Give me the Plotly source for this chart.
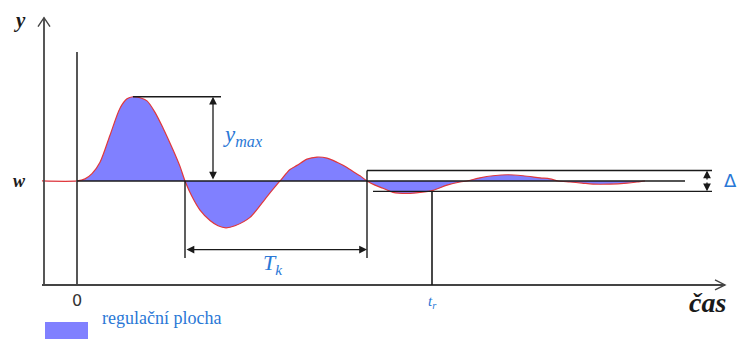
import plotly.graph_objects as go

# Step response of a control loop: time and output (normalised so that w = 1)
t = [-3.5, 0.0, 0.8, 1.5, 2.3, 3.3, 4.3, 5.0, 5.6, 6.3, 7.0, 7.8, 8.6, 9.6, 10.3, 10.8,
     11.5, 12.3, 13.3, 14.1, 14.9, 15.8, 17.3, 19.0, 20.3, 21.3, 22.0, 23.0, 24.0, 25.0,
     26.0, 27.0, 27.6, 28.3, 29.0, 29.8, 30.6, 31.6, 33.1, 34.3, 35.6, 37.0, 38.3, 39.0,
     40.3, 41.6, 43.1, 44.6, 46.3, 47.3, 48.1, 49.3, 50.5, 51.6, 53.3, 55.0, 56.0, 56.8]
y = [1.0, 1.0, 1.02, 1.07, 1.18, 1.44, 1.70, 1.79, 1.81, 1.80, 1.77, 1.66, 1.51, 1.30, 1.14, 1.0,
     0.85, 0.72, 0.62, 0.57, 0.55, 0.57, 0.65, 0.85, 1.0, 1.11, 1.15, 1.21, 1.23, 1.22,
     1.18, 1.13, 1.09, 1.05, 1.0, 0.96, 0.93, 0.89, 0.88, 0.89, 0.91, 0.96, 0.99, 1.0,
     1.03, 1.05, 1.06, 1.05, 1.03, 1.02, 1.0, 0.99, 0.98, 0.97, 0.97, 0.98, 0.99, 1.0]

w = 1.0                       # set-point
delta = 0.10                  # tolerance band
t_k_start, t_k_end = 10.8, 29.0   # one period T_k
t_r = 35.5                    # settling time
t_end = 64.8                  # end of time axis
y_top = 2.57                  # top of y axis
legend_label = "regulační plocha"

y_max = max(y)
t_peak = t[y.index(y_max)]

BLUE = "#2a78d6"
FILL = "#8080ff"
RED = "#e0383c"
BLACK = "#1a1a1a"
AX = "#444444"
SERIF = "Times New Roman, Liberation Serif, DejaVu Serif, serif"

fig = go.Figure()
fig.add_trace(go.Scatter(x=[t[0], t[-1]], y=[w, w], mode="lines",
                         line=dict(width=0), hoverinfo="skip", showlegend=False))
fig.add_trace(go.Scatter(x=t, y=y, mode="lines", line=dict(color=RED, width=1.2, shape="spline", smoothing=0.8),
                         fill="tonexty", fillcolor=FILL, name=legend_label, showlegend=False))

shapes = []
def line(x0, y0, x1, y1, color=BLACK, width=1.4):
    shapes.append(dict(type="line", x0=x0, y0=y0, x1=x1, y1=y1, xref="x", yref="y",
                       line=dict(color=color, width=width)))

# axes
line(-3.3, 0, -3.3, y_top, AX, 1.8)
line(-3.5, 0, t_end, 0, AX, 1.8)
shapes.append(dict(type="path", xref="x", yref="y", xsizemode="pixel", ysizemode="pixel",
                   xanchor=-3.3, yanchor=y_top, path="M -6,-9 L 0,0 L 6,-9",
                   line=dict(color=AX, width=1.4)))
shapes.append(dict(type="path", xref="x", yref="y", xsizemode="pixel", ysizemode="pixel",
                   xanchor=t_end, yanchor=0, path="M -10,5 L 0,0 L -10,-5",
                   line=dict(color=AX, width=1.4)))
# t = 0 line
line(0, 0, 0, 2.24, AX, 1.8)
# set-point line
line(0, w, 60.8, w)
# y_max
line(t_peak, y_max, 14.4, y_max)
# T_k verticals
line(t_k_start, w, t_k_start, 0.26)
line(t_k_end, w + delta, t_k_end, 0.26)
# tolerance band
line(t_k_end, w + delta, 63.5, w + delta)
line(29.6, w - delta, 63.5, w - delta)
# t_r
line(t_r, w - delta, t_r, 0, BLACK, 1.6)

anns = []
def arrow(x, y0, ax, ay, both=True):
    anns.append(dict(x=x, y=y0, ax=ax, ay=ay, xref="x", yref="y", axref="x", ayref="y",
                     text="", showarrow=True, arrowhead=2, startarrowhead=2, arrowsize=1.2,
                     arrowwidth=1.3, arrowcolor=BLACK, arrowside="end+start" if both else "end"))

arrow(13.6, y_max, 13.6, w)
arrow(t_k_end, 0.34, t_k_start, 0.34)
arrow(63.0, w + delta, 63.0, w, both=False)
arrow(63.0, w - delta, 63.0, w, both=False)

def text(x, yv, s, size, color, family=SERIF, xanchor="center"):
    anns.append(dict(x=x, y=yv, xref="x", yref="y", text=s, showarrow=False,
                     font=dict(size=size, color=color, family=family), xanchor=xanchor))

text(16.6, 1.43, "<i>y<sub>max</sub></i>", 23, BLUE)
text(19.6, 0.20, "<i>T<sub>k</sub></i>", 22, BLUE)
text(65.3, w, "Δ", 18, BLUE, "DejaVu Sans")
text(t_r, -0.16, "<i>t<sub>r</sub></i>", 15, BLUE)
text(0, -0.15, "0", 16, "#333333", "DejaVu Sans")
text(63.0, -0.17, "<b><i>čas</i></b>", 28, BLACK)
text(-5.8, 2.55, "<b><i>y</i></b>", 21, BLACK)
text(-5.8, w, "<b><i>w</i></b>", 18, BLACK)

# legend key
shapes.append(dict(type="rect", xref="paper", yref="paper", x0=45/737, x1=88/737,
                   y0=1 - 339/340, y1=1 - 322/340, fillcolor=FILL, line=dict(width=0)))
anns.append(dict(x=100/737, y=1 - 330/340, xref="paper", yref="paper", text=legend_label,
                 showarrow=False, xanchor="left", font=dict(size=18, color=BLUE,
                 family=SERIF)))

fig.update_layout(width=737, height=340, margin=dict(l=0, r=0, t=0, b=0),
                  paper_bgcolor="white", plot_bgcolor="white", showlegend=False,
                  shapes=shapes, annotations=anns,
                  xaxis=dict(range=[-7.7, 66.0], visible=False),
                  yaxis=dict(range=[-0.529, 2.740], visible=False))
fig.write_html("out.html", config={"displayModeBar": False},
               post_script="document.body.style.margin='0';")
